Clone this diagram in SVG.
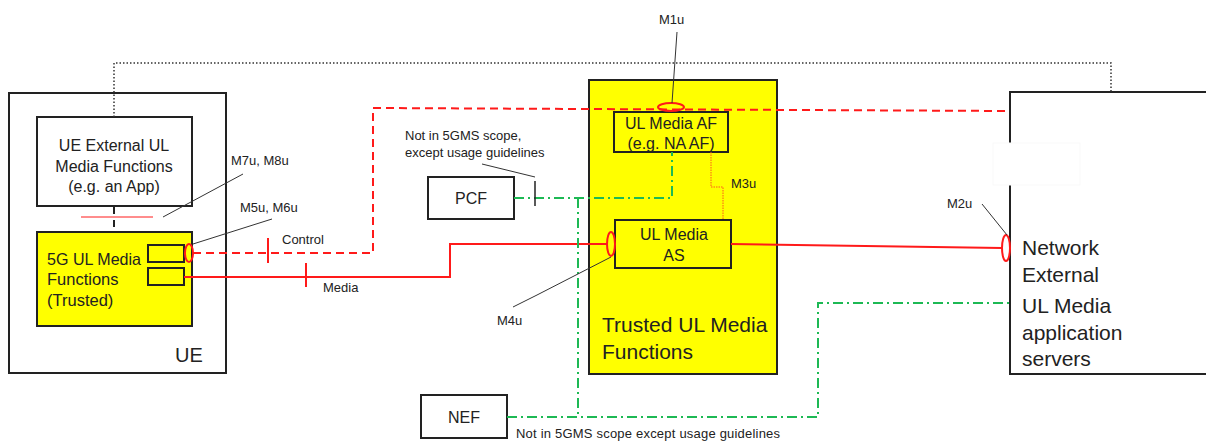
<svg xmlns="http://www.w3.org/2000/svg" width="1206" height="441" viewBox="0 0 1206 441">
<style>
text{font-family:"Liberation Sans",Arial,sans-serif;fill:#222}
.box{fill:#fff;stroke:#222;stroke-width:2}
.ybox{fill:#ffff00;stroke:#222;stroke-width:2}
.lbl{font-size:13px}
.red{fill:none;stroke:#ff1a1a;stroke-width:2}
.reddash{fill:none;stroke:#ff1a1a;stroke-width:2;stroke-dasharray:8 5}
.green{fill:none;stroke:#1db954;stroke-width:2;stroke-dasharray:10 4 2 4}
.leader{fill:none;stroke:#333;stroke-width:1}
.ell{fill:none;stroke:#ff1a1a;stroke-width:2}
</style>
<rect width="1206" height="441" fill="#fff"/>
<g id="ue">
<rect class="box" x="9" y="93" width="217" height="280"/>
<text x="175" y="362" font-size="20">UE</text>
</g>
<g id="ue-external">
<rect class="box" x="37" y="117" width="155" height="89"/>
<text x="114" y="151" font-size="16" text-anchor="middle">UE External UL</text>
<text x="114" y="172" font-size="16" text-anchor="middle">Media Functions</text>
<text x="114" y="192" font-size="16" text-anchor="middle">(e.g. an App)</text>
</g>
<g id="fiveg-ul">
<rect class="ybox" x="37" y="232" width="155" height="94"/>
<text x="47" y="265" font-size="16.5" textLength="94" lengthAdjust="spacingAndGlyphs">5G UL Media</text>
<text x="47" y="285" font-size="16.5">Functions</text>
<text x="47" y="306" font-size="16.5">(Trusted)</text>
<rect fill="#ffff00" stroke="#222" stroke-width="2" x="148" y="245" width="36" height="17"/>
<rect fill="#ffff00" stroke="#222" stroke-width="2" x="148" y="268" width="36" height="17"/>
</g>
<g id="trusted">
<rect class="ybox" x="589" y="80" width="188" height="294"/>
<text x="602" y="332" font-size="21">Trusted UL Media</text>
<text x="602" y="359" font-size="21">Functions</text>
</g>
<g id="af">
<rect class="ybox" x="614" y="112" width="114" height="40"/>
<text x="671" y="129" font-size="16" text-anchor="middle">UL Media AF</text>
<text x="671" y="149" font-size="16" text-anchor="middle">(e.g. NA AF)</text>
</g>
<g id="as">
<rect class="ybox" x="615" y="220" width="116" height="48"/>
<text x="674" y="240" font-size="16" text-anchor="middle">UL Media</text>
<text x="674" y="261" font-size="16" text-anchor="middle">AS</text>
</g>
<g id="pcf">
<rect class="box" x="428" y="177" width="86" height="42"/>
<text x="471" y="204" font-size="16" text-anchor="middle">PCF</text>
</g>
<g id="nef">
<rect class="box" x="421" y="395" width="86" height="43"/>
<text x="464" y="423" font-size="16" text-anchor="middle">NEF</text>
</g>
<g id="network-external">
<rect class="box" x="1010" y="92" width="210" height="282"/>
<rect x="993" y="143" width="87" height="42" fill="#fff" stroke="#f9f9f9" stroke-width="1"/>
<text x="1022" y="255" font-size="21">Network</text>
<text x="1022" y="282" font-size="21">External</text>
<text x="1022" y="313" font-size="21">UL Media</text>
<text x="1022" y="340" font-size="21">application</text>
<text x="1022" y="366" font-size="21">servers</text>
</g>
<g id="connectors">
<path d="M114,117 V63 H1111 V92" fill="none" stroke="#333" stroke-width="1.5" stroke-dasharray="1.5 2"/>
<path d="M114,207 V233" fill="none" stroke="#222" stroke-width="2" stroke-dasharray="7 6"/>
<path d="M81,217 H153" fill="none" stroke="#ff1a1a" stroke-width="1"/>
<path class="reddash" d="M193,253 H373 V108 L1010,111"/>
<path class="red" d="M268,238 V263"/>
<path class="red" d="M184,277 H450 V244 H607"/>
<path class="red" d="M306,263 V287"/>
<path class="red" d="M731,244 L1002,248"/>
<path d="M711,152 V187 H723 V220" fill="none" stroke="#ff5a1a" stroke-width="1" stroke-dasharray="1.5 1"/>
<path class="green" d="M514,198 H672 V152"/>
<path class="green" d="M578,198 V417"/>
<path class="green" d="M507,417 H818 V303 H1010"/>
<path d="M535,181 V206" fill="none" stroke="#222" stroke-width="1.5"/>
<ellipse class="ell" cx="189" cy="253" rx="4" ry="9"/>
<ellipse class="ell" cx="611" cy="244" rx="4" ry="12"/>
<ellipse class="ell" cx="671" cy="107" rx="13" ry="4"/>
<ellipse class="ell" cx="1006" cy="248" rx="4" ry="13"/>
<path class="leader" d="M163,217 L243,174"/>
<path class="leader" d="M193,244 L272,219"/>
<path class="leader" d="M677,32 L672,103"/>
<path class="leader" d="M611,257 L537,295 L513,307"/>
<path class="leader" d="M982,204 L1007,235"/>
<path class="leader" d="M482,164 L535,177"/>
</g>
<g id="labels">
<text class="lbl" x="231" y="165">M7u, M8u</text>
<text class="lbl" x="240" y="212">M5u, M6u</text>
<text class="lbl" x="282" y="244">Control</text>
<text class="lbl" x="323" y="292">Media</text>
<text class="lbl" x="497" y="325">M4u</text>
<text class="lbl" x="659" y="24">M1u</text>
<text class="lbl" x="731" y="188">M3u</text>
<text class="lbl" x="947" y="208">M2u</text>
<text class="lbl" x="405" y="140">Not in 5GMS scope,</text>
<text class="lbl" x="405" y="157">except usage guidelines</text>
<text class="lbl" x="516" y="438" textLength="264">Not in 5GMS scope except usage guidelines</text>
</g>
</svg>
